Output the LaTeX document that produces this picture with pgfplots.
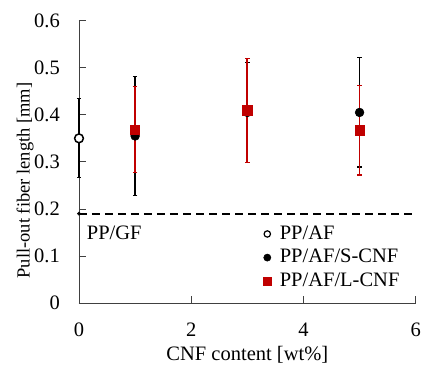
\documentclass[border=0pt]{standalone}
\usepackage{fontspec}
\setmainfont{Liberation Serif}
\usepackage{pgfplots}
\pgfplotsset{compat=1.18}
\definecolor{myred}{RGB}{192,0,0}
\pgfplotstableread{
x y e
0 0.350 0.084
}\ppaf
\pgfplotstableread{
x y e
1 0.355 0.127
3 0.405 0.106
5 0.405 0.116
}\scnf
\pgfplotstableread{
x y e
1 0.3685 0.0915
3 0.4095 0.1105
5 0.367 0.095
}\lcnf
\begin{document}
\fontsize{20.5bp}{24bp}\selectfont
\begin{tikzpicture}
\path[use as bounding box] (-79bp,-65bp) rectangle (343bp,303bp);
\begin{axis}[
  at={(0,0)}, anchor=south west,
  scale only axis, width=336.7bp, height=282.3bp,
  xmin=0, xmax=6, ymin=0, ymax=0.6,
  clip=false,
  axis lines*=left,
  axis line style={black!75, line width=0.8bp},
  tick style={black!75, line width=0.8bp},
  tick align=inside, major tick length=7bp,
  xtick={0,2,4,6}, xticklabels={0,2,4,6},
  ytick={0,0.1,0.2,0.3,0.4,0.5,0.6},
  yticklabels={0,0.1,0.2,0.3,0.4,0.5,0.6},
  xticklabel style={inner sep=0pt, anchor=north, yshift=-20bp},
  yticklabel style={inner sep=0pt, anchor=east, xshift=-19bp},
  xlabel={CNF content [wt\%]},
  xlabel style={at={(axis description cs:0.5,-0.205)}, anchor=base, inner sep=0pt},
  ylabel={Pull-out fiber length [mm]},
  ylabel style={at={(axis description cs:-0.160,0.434)}, anchor=center, inner sep=0pt, font=\fontsize{18.5bp}{22bp}\selectfont},
  legend style={draw=none, fill=none, at={(axis description cs:0.532,0.287)}, anchor=north west,
    nodes={inner sep=1.5bp}, row sep=4bp},
  legend cell align=left,
  legend image code/.code={\draw[#1] plot coordinates {(0bp,0bp)}; \path[draw=none, fill=none] (-6bp,-4bp) rectangle (11bp,4bp);},
]
\addplot[black, line width=2bp, dash pattern=on 8bp off 5bp, forget plot] coordinates {(0,0.19) (5.93,0.19)};
\addplot[only marks, mark=*, mark size=1.8bp, black, forget plot] coordinates {(0,0.19)};
\node[anchor=base west, inner sep=0pt] at (axis cs:0.137,0.1355) {PP/GF};

\addplot[only marks, mark=*, black, mark options={fill=white, line width=1.5bp}, mark size=4.4bp,
  legend image post style={mark size=3.2bp, mark options={fill=white, line width=1.2bp}},
  error bars/.cd, y dir=both, y explicit,
  error bar style={line width=1.4bp, black},
  error mark options={rotate=90, mark size=2bp, line width=1.2bp, black}]
  table[x=x, y=y, y error=e] {\ppaf};
\addlegendentry{PP/AF}

\addplot[only marks, mark=*, black, mark options={fill=black, line width=0.5bp}, mark size=4.4bp,
  legend image post style={mark size=3.6bp},
  error bars/.cd, y dir=both, y explicit,
  error bar style={line width=1.4bp, black},
  error mark options={rotate=90, mark size=2.2bp, line width=1.2bp, black}]
  table[x=x, y=y, y error=e] {\scnf};
\addlegendentry{PP/AF/S-CNF}

\addplot[only marks, mark=square*, myred, mark options={fill=myred, line width=0.5bp}, mark size=4.6bp,
  legend image post style={mark size=4.2bp},
  error bars/.cd, y dir=both, y explicit,
  error bar style={line width=1.8bp, myred},
  error mark options={rotate=90, mark size=2.2bp, line width=1.2bp, myred}]
  table[x=x, y=y, y error=e] {\lcnf};
\addlegendentry{PP/AF/L-CNF}
\end{axis}
\end{tikzpicture}
\end{document}
